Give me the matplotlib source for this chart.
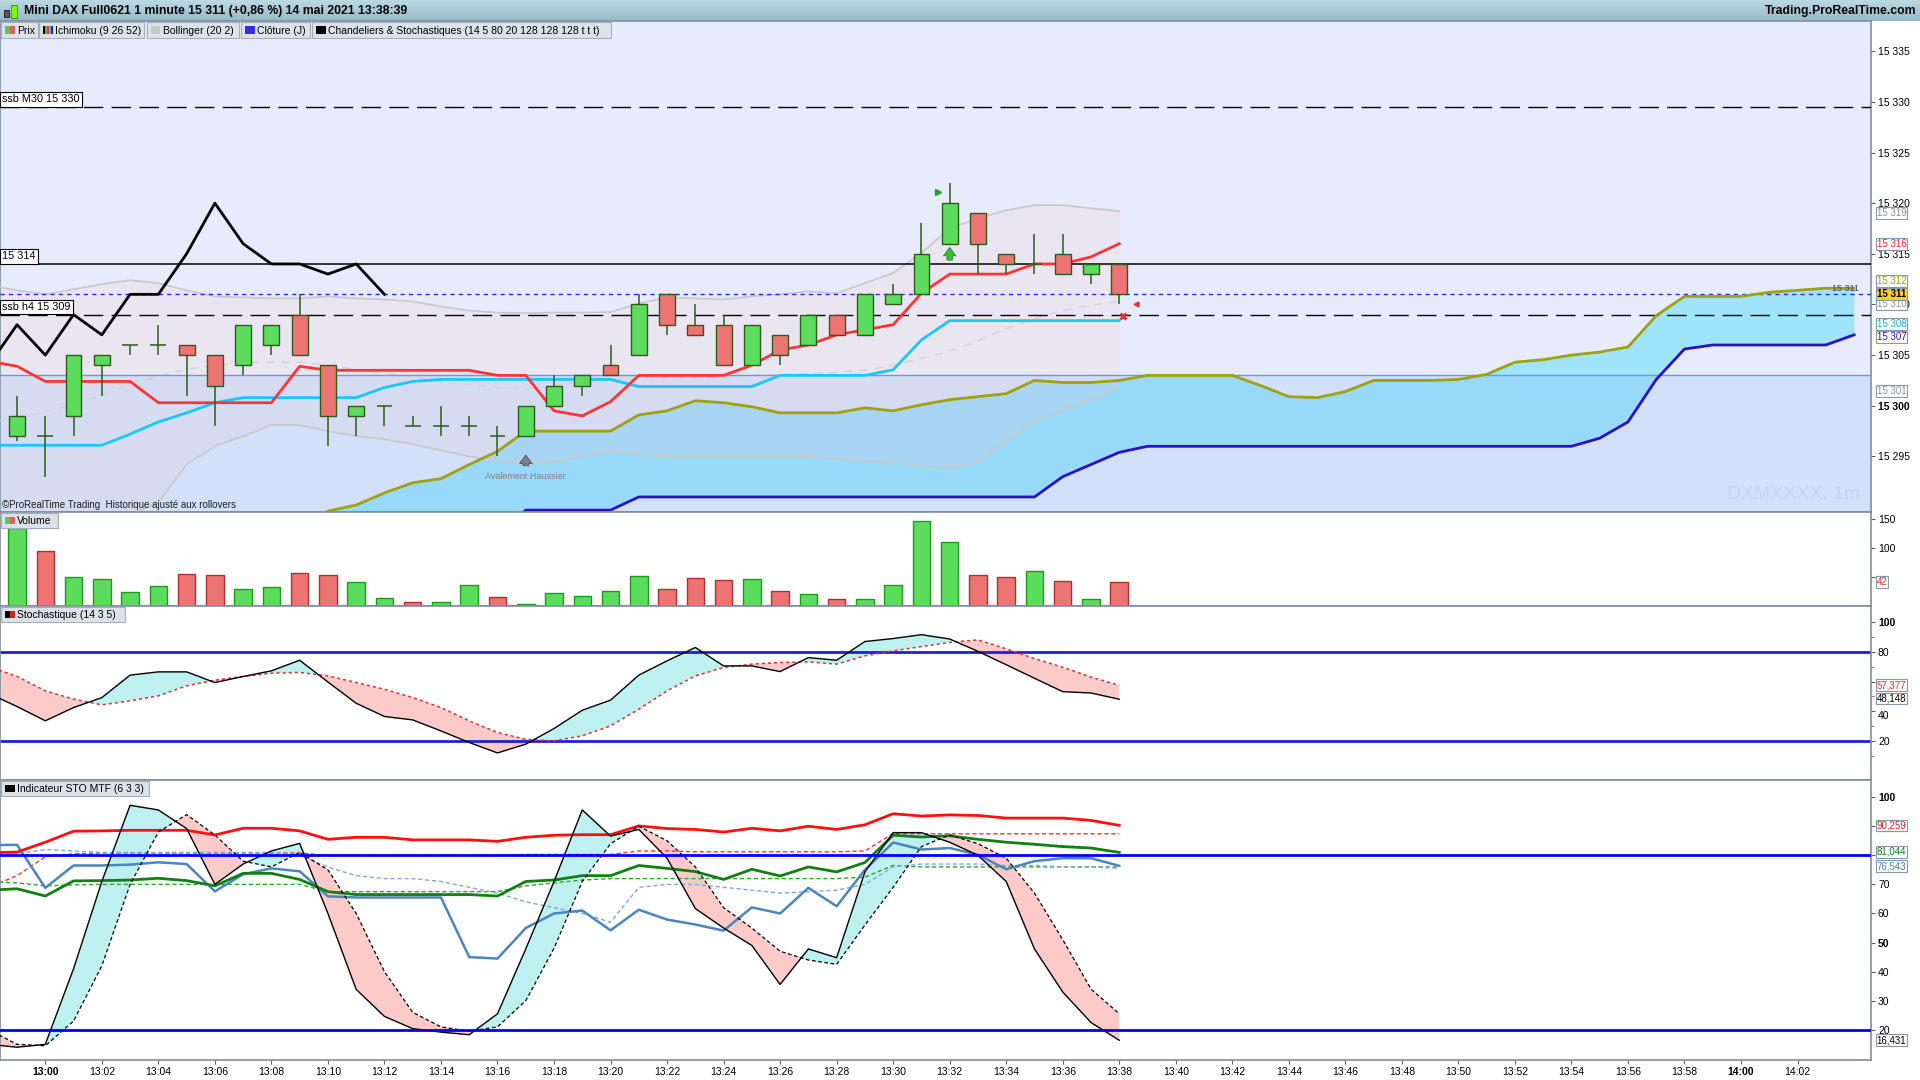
import matplotlib
matplotlib.use("Agg")
import matplotlib.pyplot as plt
import numpy as np
from matplotlib.patches import Rectangle

plt.rcParams['font.family'] = ['Liberation Sans', 'DejaVu Sans']

# ---- data (x = minutes after 13:00) ----
candle_min = list(range(-1, 39))
opens = [15297, 15297, 15299, 15304, 15306, 15306, 15306, 15305, 15304, 15306,
         15309, 15304, 15299, 15300, 15298, 15298, 15298, 15297, 15297, 15300,
         15302, 15304, 15305, 15311, 15308, 15308, 15304, 15307, 15306, 15309,
         15307, 15310, 15311, 15316, 15319, 15315, 15314, 15315, 15313, 15314]
highs = [15301, 15299, 15305, 15305, 15306, 15308, 15306, 15305, 15308, 15308,
         15311, 15304, 15300, 15300, 15299, 15300, 15299, 15298, 15300, 15303,
         15303, 15306, 15311, 15311, 15310, 15309, 15308, 15307, 15309, 15309,
         15311, 15312, 15318, 15322, 15319, 15315, 15317, 15317, 15314, 15314]
lows = [15296.5, 15293, 15297, 15301, 15305, 15305, 15301, 15298, 15303, 15305,
        15305, 15296, 15297, 15298, 15298, 15297, 15297, 15295, 15297, 15300,
        15301, 15303, 15305, 15307, 15307, 15304, 15304, 15304, 15306, 15307,
        15307, 15310, 15311, 15316, 15313, 15313, 15313, 15313, 15312, 15310]
closes = [15299, 15297, 15305, 15305, 15306, 15306, 15305, 15302, 15308, 15308,
          15305, 15299, 15300, 15300, 15298, 15298, 15298, 15297, 15300, 15302,
          15303, 15303, 15310, 15308, 15307, 15304, 15308, 15305, 15309, 15307,
          15311, 15311, 15315, 15320, 15316, 15314, 15314, 15313, 15314, 15311]
volumes = [135, 95, 50, 46, 24, 35, 55, 54, 29, 33, 57, 54, 41, 14, 7, 7, 36, 16, 3.5, 22,
           17, 26, 52, 29, 48, 45, 47, 26, 21, 12, 12, 36, 147, 110, 53, 51, 61, 44, 13, 42]
vol_up = "GRGGGGRRGGRRGGRGGRGGGGGRRRGRGRGGGGRRGRGR"

line_min = list(range(-2, 39))
tenkan = [15304.4, 15303.9, 15302.4, 15302.4, 15302.4, 15302.4, 15300.3, 15300.3, 15300.3,
          15300.3, 15300.3, 15303.9, 15303.5, 15303.5, 15303.5, 15303.5, 15303.5, 15303.5,
          15303.0, 15303.0, 15299.5, 15299.0, 15300.4, 15303.0, 15303.0, 15303.0, 15303.0,
          15304.0, 15305.5, 15306.0, 15307.0, 15307.5, 15308.0, 15311.1, 15313.0, 15313.0,
          15313.0, 15314.0, 15314.0, 15314.7, 15316.0]
kijun = [15296.1, 15296.1, 15296.1, 15296.1, 15296.1, 15297.2, 15298.4, 15299.3, 15300.3,
         15300.8, 15300.8, 15300.8, 15300.8, 15300.8, 15301.8, 15302.4, 15302.6, 15302.6,
         15302.6, 15302.6, 15302.6, 15302.6, 15302.6, 15301.9, 15301.9, 15301.9, 15301.9,
         15301.9, 15303.0, 15303.0, 15303.0, 15303.0, 15303.55, 15306.5, 15308.4, 15308.4,
         15308.4, 15308.4, 15308.4, 15308.4, 15308.4]
boll_up = [15311.9, 15311.4, 15311.0, 15311.5, 15312.0, 15312.4, 15312.1, 15311.4, 15310.8,
           15310.7, 15310.6, 15310.6, 15310.8, 15310.6, 15310.5, 15310.3, 15309.8, 15309.4,
           15309.2, 15309.15, 15309.2, 15309.2, 15309.25, 15310.1, 15310.7, 15310.6, 15310.5,
           15310.8, 15311.0, 15311.3, 15311.1, 15312.1, 15313.1, 15315.1, 15317.5, 15318.5,
           15319.3, 15319.8, 15319.8, 15319.5, 15319.2]
boll_mid = [15298.4, 15298.8, 15299.4, 15300.1, 15301.0, 15302.2, 15302.9, 15303.6, 15304.0,
            15304.2, 15304.3, 15304.3, 15304.0, 15303.6, 15303.2, 15302.9, 15302.3, 15302.1,
            15301.8, 15301.7, 15302.0, 15302.3, 15302.6, 15302.8, 15302.8, 15302.8, 15302.8,
            15303.0, 15303.1, 15303.2, 15303.3, 15303.5, 15304.0, 15304.7, 15305.4, 15306.4,
            15307.6, 15308.6, 15309.4, 15309.9, 15310.3]
boll_lo = [15286.0, 15286.0, 15286.5, 15287.0, 15288.0, 15289.2, 15290.5, 15294.2, 15296.0,
           15297.0, 15298.1, 15298.1, 15297.5, 15297.0, 15296.7, 15296.2, 15295.6, 15295.0,
           15294.6, 15294.2, 15294.5, 15295.0, 15295.5, 15295.2, 15295.0, 15295.0, 15295.0,
           15295.0, 15295.0, 15295.0, 15294.8, 15294.6, 15294.4, 15294.1, 15293.9, 15294.4,
           15296.6, 15298.4, 15299.6, 15300.6, 15301.8]

cloud_min = list(range(9, 65))
senkou_a = [15288.0, 15289.6, 15290.2, 15291.4, 15292.4, 15292.8, 15294.2, 15295.5, 15297.5,
            15297.5, 15297.5, 15297.5, 15299.1, 15299.5, 15300.5, 15300.3, 15299.9, 15299.3,
            15299.3, 15299.3, 15299.8, 15299.5, 15300.1, 15300.6, 15300.9, 15301.2, 15302.5,
            15302.3, 15302.3, 15302.5, 15303.0, 15303.0, 15303.0, 15303.0, 15302.0, 15300.9,
            15300.8, 15301.4, 15302.5, 15302.5, 15302.5, 15302.6, 15303.1, 15304.3, 15304.55,
            15305.0, 15305.3, 15305.8, 15308.9, 15310.8, 15310.8, 15310.8, 15311.2, 15311.4,
            15311.6, 15311.6]
senkou_b = [15287.0] * 8 + [15289.7] * 4 + [15291.0] * 15 + [15293.0, 15294.2, 15295.4] + \
           [15296.0] * 16 + [15296.8, 15298.4, 15302.6, 15305.6] + [15306.0] * 5 + [15307.0]

stoch_k = [52, 43.2, 33.6, 42.5, 49.2, 64.3, 66.5, 66.5, 59.3, 63.4, 67.2, 74.3, 59.7, 45.4,
           36.5, 34.2, 26.8, 19.0, 12.0, 17.9, 28.4, 40.7, 47.5, 64.3, 73.9, 82.9, 70.5, 70.5,
           66.7, 76.1, 74.3, 86.9, 88.9, 91.5, 88.6, 80.3, 71.3, 62.2, 53.2, 52.3, 48.1]
stoch_d = [70, 63.4, 53.7, 48.2, 44.3, 47.0, 50.4, 57.1, 60.9, 63.4, 65.6, 66.1, 63.8, 59.3,
           54.8, 49.2, 42.5, 33.6, 25.7, 21.2, 20.1, 23.5, 30.2, 41.4, 53.7, 63.8, 69.4, 71.7,
           72.8, 73.2, 71.7, 77.3, 80.6, 83.5, 86.3, 88.0, 82.0, 75.4, 69.6, 63.0, 57.4]

mtf_red = [80.9, 81.1, 84.5, 88.3, 88.4, 88.6, 88.6, 88.6, 87.0, 89.3, 89.3, 88.4, 85.5, 86.2,
           86.2, 85.3, 85.3, 85.3, 84.8, 86.2, 86.9, 87.1, 87.1, 90.1, 89.2, 88.9, 88.0, 89.3,
           88.4, 90.0, 88.9, 90.5, 94.3, 93.5, 93.9, 93.7, 92.8, 92.8, 92.8, 92.0, 90.3]
mtf_red_d = [69, 73, 79.5, 80.5] + [80.8] * 8 + [80.0] * 7 + [80.3] * 4 + [81.5, 81.5] + \
            [81.2] * 6 + [81.5, 87.5] + [87.4] * 8
mtf_green = [68.0, 68.5, 66.0, 71.2, 71.3, 71.5, 72.1, 71.3, 69.5, 73.8, 73.8, 71.7, 67.5, 66.5,
             66.5, 66.5, 66.5, 66.5, 66.0, 71.0, 71.5, 73.0, 73.0, 76.5, 75.5, 74.4, 71.7, 75.2,
             72.9, 76.0, 74.3, 77.5, 86.9, 86.3, 86.7, 85.5, 84.5, 83.8, 83.0, 82.5, 81.0]
mtf_green_d = [71.0, 70.5, 69.5, 69.8] + [70.0] * 8 + [67.5] * 7 + [69.5, 70.5, 71.5] + \
              [72.0] * 9 + [72.5, 76.5] + [76.0] * 8
mtf_blue = [83.5, 83.6, 68.8, 76.5, 76.5, 76.8, 77.6, 77.0, 67.6, 73.5, 75.5, 74.5, 65.9, 65.5,
            65.5, 65.5, 65.5, 45.0, 44.5, 55.0, 60.0, 61.0, 54.2, 61.3, 57.9, 56.2, 54.1, 62.1,
            60.0, 68.8, 62.5, 75.0, 84.4, 82.0, 82.5, 80.2, 75.2, 78.0, 79.0, 79.0, 76.4]
mtf_blue_d = [80.5, 80.5, 82.0, 81.5, 81.0, 81.0, 81.0, 81.0, 81.0, 81.0, 81.0, 80.0, 76.0, 73.0,
              72.0, 72.0, 71.0, 69.0, 67.0, 64.0, 62.0, 60.0, 57.0, 69.0, 70.0, 70.0, 69.0, 68.0,
              67.0, 67.5, 68.0, 70.0, 76.0, 77.0, 77.0, 77.0, 76.5, 76.5, 76.0, 76.0, 75.5]
mtf_k = [15, 14, 15, 41, 71, 97.2, 95.6, 89.2, 70, 77, 81.5, 84.1, 60, 33.9, 24.6, 20.4, 19.2,
         18.3, 25.5, 47.8, 71, 95.6, 86.6, 88.9, 79, 61.7, 55, 49, 35.6, 47.8, 44.8, 74.3, 87.8,
         87.8, 84.5, 80, 71, 47.8, 33, 22.5, 16.4]
mtf_d = [20, 15, 14.5, 23, 42, 70, 88, 94, 87, 78, 76, 81, 75, 60, 40, 26, 21, 19.5, 21, 30, 48,
         71, 84, 90, 85, 76, 62, 55, 47, 44, 42.5, 56, 69, 83, 87, 84, 79, 67, 51, 34, 25.5]

price_ticks = [15295, 15300, 15305, 15310, 15315, 15320, 15325, 15330, 15335]
time_ticks = list(range(0, 63, 2))

# ---- layout helpers (reference pixel grid 1568 x 882) ----
W, H = 1568.0, 882.0


def rect(x0, y0, x1, y1):
    return [x0 / W, 1 - y1 / H, (x1 - x0) / W, (y1 - y0) / H]


def fmt_price(v):
    return f"{v:,}".replace(",", " ")


fig = plt.figure(figsize=(19.2, 10.8), dpi=100)
fig.patch.set_facecolor('white')

# title bar
ax_t = fig.add_axes(rect(0, 0, W, 17))
grad = np.linspace(0, 1, 50).reshape(-1, 1)
ax_t.imshow(grad, aspect='auto', cmap=matplotlib.colors.LinearSegmentedColormap.from_list(
    'tb', ['#BCD9E3', '#96B9C7']), extent=[0, 1, 0, 1])
ax_t.set_axis_off()
fig.text(20 / W, 1 - 9 / H, "Mini DAX Full0621 1 minute 15 311 (+0,86 %) 14 mai 2021 13:38:39",
         fontsize=8.8, fontweight='bold', va='center', ha='left')
fig.text(1565 / W, 1 - 9 / H, "Trading.ProRealTime.com", fontsize=8.8, fontweight='bold',
         va='center', ha='right')
fig.patches.append(Rectangle((3 / W, 1 - 14 / H), 4 / W, 6 / H, transform=fig.transFigure,
                             fc='#555555', ec='black', lw=0.5, zorder=20))
fig.patches.append(Rectangle((9 / W, 1 - 15 / H), 5 / W, 11 / H, transform=fig.transFigure,
                             fc='#7CFC00', ec='#3a6a10', lw=0.5, zorder=20))

XMIN, XMAX = -1.603, 64.6


def style_axes(a):
    for s in a.spines.values():
        s.set_color('#7F8F9A')
        s.set_linewidth(1.2)
    a.set_xlim(XMIN, XMAX)
    a.yaxis.tick_right()
    a.tick_params(axis='y', labelsize=7.5, length=3, width=0.8, color='#606060', pad=2)
    a.tick_params(axis='x', length=0)
    a.set_xticks([])


def label_ticks(a, ticks, hidden=(), bold=()):
    # ticks hidden behind value boxes in the reference keep their mark only
    a.set_yticks(ticks)
    a.set_yticklabels(["" if t in hidden else str(t) for t in ticks])
    for lab in a.get_yticklabels():
        if lab.get_text() in bold:
            lab.set_fontweight('bold')


def side_box(a, val, txt, color, fc='white', bold=False):
    a.annotate(txt, xy=(1.0, val), xycoords=('axes fraction', 'data'), xytext=(4, 0),
               textcoords='offset points', va='center', ha='left', fontsize=7, color=color,
               fontweight='bold' if bold else 'normal', annotation_clip=False, zorder=12,
               bbox=dict(boxstyle='square,pad=0.1', fc=fc, ec='#8898A8', lw=0.8))


def legend_box(x0, y0, x1, y1, label, icons):
    fig.patches.append(Rectangle((x0 / W, 1 - y1 / H), (x1 - x0) / W, (y1 - y0) / H,
                                 transform=fig.transFigure, fc='#DCE2E8', ec='#A3AFBA',
                                 lw=0.8, zorder=20))
    n = len(icons)
    for k, c in enumerate(icons):
        fig.patches.append(Rectangle(((x0 + 3 + k * 8.0 / n) / W, 1 - (y1 - 3) / H),
                                     (8.0 / n) / W, (y1 - y0 - 6) / H,
                                     transform=fig.transFigure, fc=c, ec='none', zorder=21))
    fig.text((x0 + 13) / W, 1 - ((y0 + y1) / 2 + 0.5) / H, label, fontsize=7.5, va='center',
             ha='left', zorder=22)


# ---- price panel ----
ax = fig.add_axes(rect(0, 17, 1528, 418))
ax.set_facecolor('#E6ECFC')
style_axes(ax)
ax.set_ylim(15289.53, 15338.0)
ax.set_yticks(price_ticks)
ax.set_yticklabels([fmt_price(v) for v in price_ticks])
for lab in ax.get_yticklabels():
    if lab.get_text() == "15 300":
        lab.set_fontweight('bold')

ax.fill_between(cloud_min, senkou_a, senkou_b, color='#A0E4FC', lw=0, zorder=1)
ax.fill_between(line_min, boll_lo, boll_up, color=(1.0, 0.81, 0.79), alpha=0.2, lw=0, zorder=2)
ax.axhspan(15280, 15303, color=(120 / 255, 170 / 255, 245 / 255), alpha=0.18, lw=0, zorder=3)
ax.plot(line_min, boll_up, color='#C8C8C8', lw=1.2, zorder=4)
ax.plot(line_min, boll_lo, color='#C8C8C8', lw=1.2, zorder=4)
ax.plot(line_min, boll_mid, color='#D2D2D2', lw=1.0, dashes=(6, 5), zorder=4)

ax.axhline(15303, color='#6A96F0', lw=1, zorder=4)
ax.axhline(15329.5, color='black', lw=1, dashes=(14, 6), zorder=4)
ax.axhline(15314, color='black', lw=1.1, zorder=4)
ax.axhline(15311, color='#2828E0', lw=1, dashes=(3, 3), zorder=4)
ax.axhline(15309, color='black', lw=1, dashes=(14, 6), zorder=4)

ax.plot(cloud_min, senkou_a, color='#A0A010', lw=2, zorder=5)
ax.plot(cloud_min, senkou_b, color='#2A10C8', lw=2, zorder=5)
ax.plot(line_min, kijun, color='#18C8F8', lw=2, zorder=5)
ax.plot(line_min, tenkan, color='#FF3434', lw=2, zorder=5)
chikou_min = [m - 26 for m in candle_min[25:]]
ax.plot(chikou_min, closes[25:], color='black', lw=2, zorder=5)

# candles
cm = np.array(candle_min)
o = np.array(opens, dtype=float)
c = np.array(closes, dtype=float)
ax.vlines(cm, lows, highs, color='#2E5A1A', lw=1.1, zorder=6)
body_w = 0.56
for x, op, cl in zip(cm, o, c):
    if op == cl:
        ax.hlines(op, x - body_w / 2, x + body_w / 2, color='#2E5A1A', lw=1.1, zorder=7)
    else:
        col = '#5CDC5C' if cl > op else '#EE7474'
        ax.bar(x, abs(cl - op), bottom=min(op, cl), width=body_w, color=col,
               edgecolor='#2E5A1A', lw=1, zorder=7)

# markers and notes
ax.annotate('', xy=(32, 15315.9), xytext=(32, 15314.1),
            arrowprops=dict(arrowstyle='simple,head_width=0.9,head_length=0.6,tail_width=0.4',
                            fc='#30C030', ec='#208020', lw=0.5), zorder=8)
ax.annotate('', xy=(17, 15295.4), xytext=(17, 15293.8),
            arrowprops=dict(arrowstyle='simple,head_width=0.9,head_length=0.6,tail_width=0.4',
                            fc='#808080', ec='#404040', lw=0.5), zorder=8)
ax.text(17, 15293.0, "Avalement Haussier", ha='center', va='center', fontsize=6.5,
        color='#808080', zorder=8)
ax.plot(31.6, 15321.1, marker='>', color='#20A020', ms=5, zorder=8)
ax.plot(38.15, 15308.9, marker='x', color='#E03030', ms=5, mew=2, zorder=8)
ax.plot(38.6, 15310.0, marker='<', color='#E03030', ms=3.5, zorder=8)
ax.text(63.7, 15311.15, "15 311", ha='center', va='bottom', fontsize=6.5, color='#404060',
        zorder=8)
ax.text(0.994, 0.02, "DXMXXXX, 1m", transform=ax.transAxes, ha='right', va='bottom',
        fontsize=14, color='#C6D4EE', zorder=8)
ax.text(0.001, 0.003, "\u00a9ProRealTime Trading  Historique ajusté aux rollovers",
        transform=ax.transAxes, ha='left', va='bottom', fontsize=7, color='#202020', zorder=8)

for y, txt in [(15329.5, "ssb M30 15 330"), (15314, "15 314"), (15309, "ssb h4 15 309")]:
    ax.text(XMIN + 0.08, y + 0.25, txt, ha='left', va='bottom', fontsize=7.8, zorder=9,
            bbox=dict(boxstyle='square,pad=0.2', fc='white', ec='black', lw=0.8))

side_box(ax, 15319, "15 319", '#909090')
side_box(ax, 15316, "15 316", '#FF2020')
side_box(ax, 15310, "15 310", '#909090')
side_box(ax, 15312.3, "15 312", '#A0A000')
side_box(ax, 15308.1, "15 308", '#10B0E0')
side_box(ax, 15306.8, "15 307", '#3010C0')
side_box(ax, 15301.5, "15 301", '#909090')
side_box(ax, 15311, "15 311", 'black', fc='#FFD21E', bold=True)

# ---- volume panel ----
ax_v = fig.add_axes(rect(0, 418, 1528, 495))
style_axes(ax_v)
ax_v.set_ylim(0, 162.7)
label_ticks(ax_v, [50, 100, 150], hidden=(50,))
vcol = ['#5CDC5C' if f == 'G' else '#EE7474' for f in vol_up]
vedge = ['#1E9A1E' if f == 'G' else '#B03030' for f in vol_up]
ax_v.bar(candle_min, volumes, width=0.62, color=vcol, edgecolor=vedge, lw=1, zorder=3)
side_box(ax_v, 42, "42", '#E03030')

# ---- stochastic panel ----
ax_s = fig.add_axes(rect(0, 495, 1528, 637))
style_axes(ax_s)
ax_s.set_ylim(-6.2, 110.7)
label_ticks(ax_s, [20, 40, 60, 80, 100], hidden=(60,), bold=("100",))
ax_s.set_yticks([10, 30, 50, 70, 90], minor=True)
ax_s.tick_params(axis='y', which='minor', length=2, color='#606060')
for lab in ax_s.get_yticklabels():
    if lab.get_text() == "40":
        lab.set_va('top')
k = np.array(stoch_k)
d = np.array(stoch_d)
ax_s.fill_between(line_min, k, d, where=k >= d, interpolate=True, color='#BFF0F0', lw=0, zorder=1)
ax_s.fill_between(line_min, k, d, where=k < d, interpolate=True, color='#FDCACA', lw=0, zorder=1)
ax_s.axhline(80, color='#2020D0', lw=2, zorder=2)
ax_s.axhline(20, color='#2020D0', lw=2, zorder=2)
ax_s.plot(line_min, d, color='#E03030', lw=1.1, dashes=(2, 2), zorder=3)
ax_s.plot(line_min, k, color='black', lw=1, zorder=4)
side_box(ax_s, 57.377, "57,377", '#E03030')
side_box(ax_s, 48.6, "48,148", 'black')

# ---- STO MTF panel ----
ax_m = fig.add_axes(rect(0, 637, 1528, 866))
style_axes(ax_m)
ax_m.set_ylim(9.47, 105.9)
label_ticks(ax_m, list(range(20, 101, 10)), hidden=(80, 90), bold=("100", "50"))
mk = np.array(mtf_k)
md = np.array(mtf_d)
ax_m.fill_between(line_min, mk, md, where=mk >= md, interpolate=True, color='#BFF0F0', lw=0,
                  zorder=1)
ax_m.fill_between(line_min, mk, md, where=mk < md, interpolate=True, color='#FDCACA', lw=0,
                  zorder=1)
ax_m.plot(line_min, mtf_red_d, color='#FF3030', lw=1, dashes=(3, 2), zorder=2)
ax_m.plot(line_min, mtf_green_d, color='#30A030', lw=1, dashes=(3, 2), zorder=2)
ax_m.plot(line_min, mtf_blue_d, color='#80A8D8', lw=1, dashes=(3, 2), zorder=2)
ax_m.plot(line_min, mtf_blue, color='#4A86BE', lw=1.8, zorder=3)
ax_m.plot(line_min, mtf_green, color='#108010', lw=2, zorder=3)
ax_m.plot(line_min, mtf_red, color='#FF1010', lw=2, zorder=3)
ax_m.plot(line_min, md, color='black', lw=0.9, dashes=(3, 2), zorder=4)
ax_m.plot(line_min, mk, color='black', lw=1, zorder=4)
ax_m.axhline(80, color='#0000FF', lw=2, zorder=5)
ax_m.axhline(20, color='#0000FF', lw=2, zorder=5)
side_box(ax_m, 90.259, "90,259", '#E02020')
side_box(ax_m, 81.3, "81,044", '#108010')
side_box(ax_m, 76.3, "76,543", '#4A7EB8')
side_box(ax_m, 16.431, "16,431", 'black')

ax_m.set_xticks(time_ticks)
ax_m.set_xticklabels([f"{13 + m // 60}:{m % 60:02d}" for m in time_ticks])
ax_m.tick_params(axis='x', length=3, labelsize=7.5, pad=2, color='#606060')
for lab in ax_m.get_xticklabels():
    if lab.get_text() in ("13:00", "14:00"):
        lab.set_fontweight('bold')

# ---- panel legends ----
legend_box(1, 18, 31, 31, "Prix", ['#55CC55', '#E06060'])
legend_box(32, 18, 118, 31, "Ichimoku (9 26 52)", ['black', '#A0A010', '#FF3030', '#18C8F8', '#2A10C8'])
legend_box(120, 18, 195, 31, "Bollinger (20 2)", ['#C8C8C8'])
legend_box(197, 18, 253, 31, "Clôture (J)", ['#3030E0'])
legend_box(255, 18, 499, 31, "Chandeliers & Stochastiques (14 5 80 20 128 128 128 t t t)", ['black'])
legend_box(1, 419, 47, 431, "Volume", ['#55CC55', '#E06060'])
legend_box(1, 496, 102, 508, "Stochastique (14 3 5)", ['black', '#D02020'])
legend_box(1, 638, 122, 650, "Indicateur STO MTF (6 3 3)", ['black'])

fig.savefig("out.png", dpi=100, facecolor='white')
